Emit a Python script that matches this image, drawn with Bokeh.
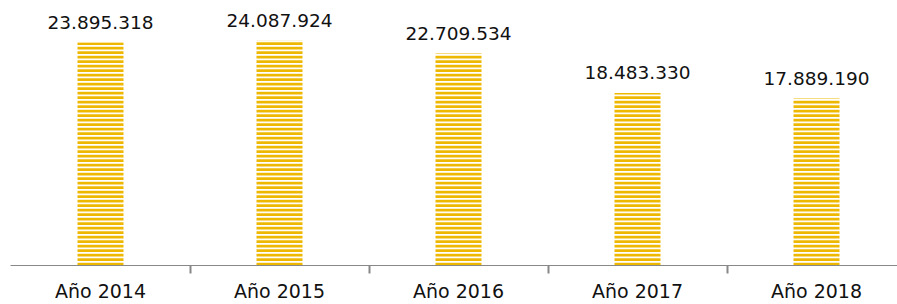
from bokeh.plotting import figure
from bokeh.models import ColumnDataSource, Range1d, FixedTicker, LabelSet
from bokeh.core.properties import value
from bokeh.embed import file_html
from bokeh.resources import INLINE

years = ["Año 2014", "Año 2015", "Año 2016", "Año 2017", "Año 2018"]
values = [23895318, 24087924, 22709534, 18483330, 17889190]
labels = ["23.895.318", "24.087.924", "22.709.534", "18.483.330", "17.889.190"]

xs = list(range(len(years)))
src = ColumnDataSource(dict(x=xs, top=values, lab=labels))

p = figure(width=897, height=304, output_backend="svg", toolbar_location=None,
           x_range=Range1d(-0.5028, 4.4525), y_range=Range1d(0, 28.39e6),
           min_border_left=10, min_border_right=0, min_border_top=0, min_border_bottom=38)
p.outline_line_color = None
p.grid.visible = False
p.yaxis.visible = False
p.background_fill_color = "white"
p.border_fill_color = "white"

p.vbar(x="x", top="top", width=0.257, bottom=0, source=src,
       fill_color=None, line_color=None,
       hatch_pattern="horizontal_line", hatch_color="#EEB700",
       hatch_scale=4.5, hatch_weight=3)

lbl = LabelSet(x="x", y="top", text="lab", source=src, text_align="center",
               text_baseline="middle", y_offset=20, text_font=value("DejaVu Sans"),
               text_font_size="18.5px", text_color="#111111")
p.add_layout(lbl)

ax = p.xaxis[0]
ax.axis_label = None
ax.axis_label_standoff = 0
ax.ticker = FixedTicker(ticks=xs, minor_ticks=[i + 0.5 for i in xs])
ax.major_label_overrides = {i: y for i, y in enumerate(years)}
ax.major_tick_line_color = None
ax.major_tick_out = 0
ax.major_tick_in = 0
ax.minor_tick_out = 8
ax.minor_tick_in = 0
ax.minor_tick_line_color = "#888888"
ax.minor_tick_line_width = 2
ax.axis_line_color = "#888888"
ax.axis_line_width = 1
ax.major_label_standoff = 6
ax.major_label_text_font = "DejaVu Sans"
ax.major_label_text_font_size = "19px"
ax.major_label_text_color = "#111111"

open("out.html", "w").write(file_html(p, INLINE))
